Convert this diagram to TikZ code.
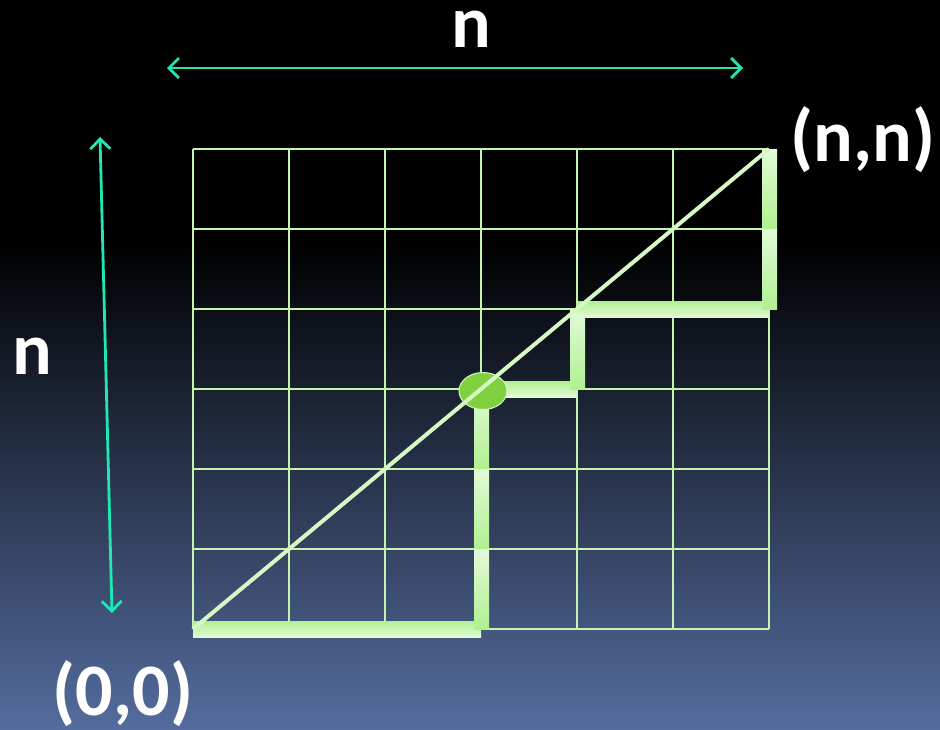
\documentclass[tikz,border=0pt]{standalone}
\usepackage{fontspec}
\setmainfont{Carlito}
\usepackage{tikz}
\usetikzlibrary{arrows.meta,shapes.geometric}
\definecolor{bgbot}{RGB}{84,108,158}
\definecolor{gridline}{RGB}{196,244,176}
\definecolor{pathgreen}{RGB}{176,240,144}
\definecolor{pathpale}{RGB}{226,250,216}
\definecolor{diag}{RGB}{214,248,196}
\definecolor{dotfill}{RGB}{128,208,64}
\definecolor{dimteal}{RGB}{32,232,180}
\tikzset{
  grd/.style={draw=gridline, line width=1.5pt},
  hseg/.style={top color=pathgreen, bottom color=pathpale},
  vseg/.style={top color=pathpale, bottom color=pathgreen},
  dim/.style={{Straight Barb[length=10pt,width=20pt]}-{Straight Barb[length=10pt,width=20pt]}, draw=dimteal, line width=2.8pt},
  big/.style={text=white, font=\fontsize{74}{74}\selectfont\bfseries, inner sep=0pt},
}
\begin{document}
\begin{tikzpicture}[x=1pt, y=-1pt]
  \useasboundingbox (0,0) rectangle (940,729);
  \fill[black] (0,0) rectangle (940,245);
  \shade[top color=black, bottom color=bgbot] (0,244) rectangle (940,729);
  % grid
  \foreach \i in {0,...,6} {
    \draw[grd] (193+96*\i,149) -- (193+96*\i,629);
    \draw[grd] (193,149+80*\i) -- (769,149+80*\i);
  }
  % lattice path
  \shade[hseg] (193,621) rectangle (481,637);
  \foreach \y in {389,469,549} \shade[vseg] (474,\y) rectangle (489,\y+80);
  \shade[hseg] (481,381) rectangle (577,397);
  \shade[vseg] (570,309) rectangle (585,389);
  \shade[hseg] (577,301) rectangle (769,317);
  \foreach \y in {149,229} \shade[vseg] (762,\y) rectangle (777,\y+80);
  \node[ellipse, draw=diag, line width=1pt, fill=dotfill, minimum width=48pt, minimum height=37pt] (mid) at (483,391) {};
  \coordinate (orig) at (193,629);
  \coordinate (top) at (769,149);
  \draw[diag, line width=4pt] (orig) -- (top);
  % dimensions
  \coordinate (hl) at (167,68);
  \coordinate (hr) at (743,68);
  \draw[dim] (hl) -- (hr);
  \coordinate (vt) at (100,137);
  \coordinate (vb) at (112,613);
  \draw[dim] (vt) -- (vb);
  \node[big] (ntop) at (471,29) {n};
  \node[big] (nleft) at (32,356) {n};
  \node[big] (lnn) at (863,140) {(n,n)};
  \node[big] (l00) at (123,694) {(0,0)};
\end{tikzpicture}
\end{document}
